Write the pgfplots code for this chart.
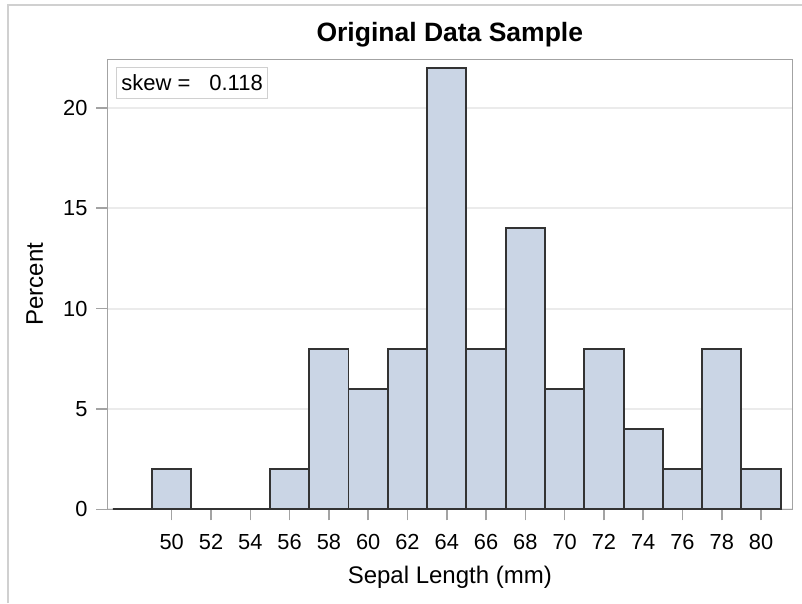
\documentclass[border=0pt]{standalone}
\usepackage{pgfplots}
\pgfplotsset{compat=1.18}
\usepackage{fontspec}
\setmainfont{Liberation Sans}
\definecolor{barfill}{HTML}{CAD5E5}
\definecolor{baredge}{HTML}{333333}
\definecolor{axisgray}{HTML}{A3A3A3}
\definecolor{gridgray}{HTML}{EBEBEB}
\definecolor{bordergray}{HTML}{D0D0D0}
\begin{document}
\begin{tikzpicture}
\path[use as bounding box] (0pt,0pt) rectangle (802pt,603pt);
\draw[bordergray, line width=2pt] (8pt,0pt) -- (8pt,598pt) -- (802pt,598pt);
\begin{axis}[
  at={(107.3pt,93.7pt)}, anchor=south west,
  scale only axis, width=685pt, height=450pt,
  xmin=46.72, xmax=81.59, ymin=0, ymax=22.42,
  xtick={50,52,...,80}, ytick={0,5,10,15,20},
  ymajorgrids, grid style={gridgray, line width=2pt},
  axis line style={axisgray, line width=1.5pt},
  tick align=outside, major tick length=11pt,
  tick style={axisgray, line width=1.5pt},
  xtick pos=bottom, ytick pos=left,
  /pgf/number format/assume math mode=true,
  tick label style={font=\fontsize{21.8}{26}\selectfont, text=black},
  xticklabel style={anchor=base, yshift=-29pt},
  yticklabel style={anchor=east, xshift=-5.3pt},
  title={Original Data Sample},
  title style={at={(0.5,1)}, anchor=base, yshift=11.6pt, font=\bfseries\fontsize{26.5}{31}\selectfont},
  xlabel={Sepal Length (mm)},
  xlabel style={at={(axis description cs:0.5,-0.1638)}, anchor=base, font=\fontsize{24}{29}\selectfont},
  ylabel={Percent},
  ylabel style={at={(axis description cs:-0.0939,0.5)}, anchor=base, font=\fontsize{24}{29}\selectfont},
  clip=false,
]
\addplot[ybar, bar width=2, bar shift=0pt, fill=barfill, draw=baredge, line width=1.9pt]
coordinates {
(48,0) (50,2) (52,0) (54,0) (56,2) (58,8) (60,6) (62,8) (64,22)
(66,8) (68,14) (70,6) (72,8) (74,4) (76,2) (78,8) (80,2)
};
\node[draw=bordergray, line width=1.2pt, anchor=north west, inner xsep=5pt, inner ysep=0pt,
  minimum height=31pt, font=\fontsize{22}{26}\selectfont]
  at (axis description cs:0.01226,0.98356) {skew =\hspace{19pt}0.118\hspace{2.7pt}};
\end{axis}
\end{tikzpicture}
\end{document}
